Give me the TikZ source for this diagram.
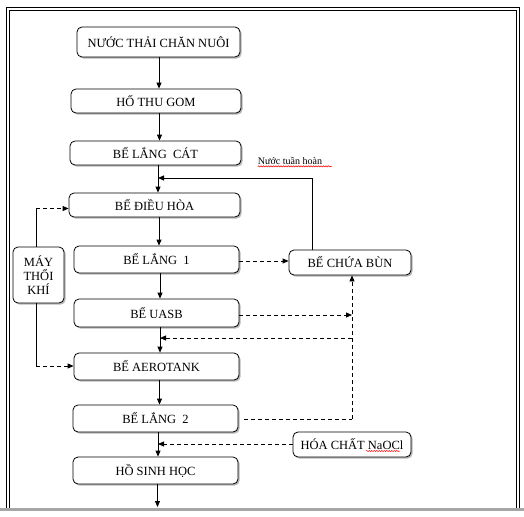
\documentclass[tikz,border=0pt]{standalone}
\usepackage{fontspec}
\setmainfont{Liberation Serif}
\usetikzlibrary{arrows.meta,shadows,decorations.pathmorphing}
\begin{document}
\begin{tikzpicture}[x=1pt,y=-1pt,
  box/.style={draw,rounded corners=5pt,line width=0.8pt,fill=white,
    drop shadow={shadow xshift=1.6pt,shadow yshift=-1.6pt,fill=black!40,opacity=0.7},
    font=\fontsize{12.5}{14}\selectfont,inner sep=0pt,align=center},
  arr/.style={line width=0.8pt,-{Triangle[length=6pt,width=5pt]}},
  darr/.style={line width=0.8pt,dash pattern=on 4pt off 3pt,-{Triangle[length=6pt,width=5pt]}},
  dln/.style={line width=0.8pt,dash pattern=on 4pt off 3pt},
  frame/.style={line width=0.9pt},
  spell/.style={red,line width=0.5pt,decorate,decoration={snake,amplitude=0.6pt,segment length=2.5pt}}
]
\useasboundingbox (0,0) rectangle (524,516);
% page frame
\draw[frame] (6,509) -- (6,7) -- (519,7) -- (519,509);
\draw[frame] (9,509) -- (9,10) -- (516,10) -- (516,509);
\fill[black!35] (0,508.3) rectangle (524,510.7);

% boxes
\node[box,minimum width=163pt,minimum height=30pt] (nt) at (158.5,42) {NƯỚC THẢI CHĂN NUÔI};
\node[box,minimum width=170pt,minimum height=24pt] (ho) at (156,101) {HỐ THU GOM};
\node[box,minimum width=171pt,minimum height=24pt] (lc) at (155.5,153) {BỂ LẮNG\ \ CÁT};
\node[box,minimum width=171pt,minimum height=24pt] (dh) at (154.5,205) {BỂ ĐIỀU HÒA};
\node[box,minimum width=165pt,minimum height=27pt] (l1) at (156.5,259.5) {BỂ LẮNG\ \ 1};
\node[box,minimum width=165pt,minimum height=28pt] (ua) at (156.5,313) {BỂ UASB};
\node[box,minimum width=165pt,minimum height=27pt] (ae) at (156.5,366.5) {BỂ AEROTANK};
\node[box,minimum width=165pt,minimum height=27pt] (l2) at (155.5,418.5) {BỂ LẮNG\ \ 2};
\node[box,minimum width=165pt,minimum height=27pt] (sh) at (155.5,470.5) {HỒ SINH HỌC};
\node[box,minimum width=51pt,minimum height=56pt] (mk) at (38.5,275) {MÁY\\THỔI\\KHÍ};
\node[box,minimum width=122pt,minimum height=25pt] (bun) at (350,262.5) {BỂ CHỨA BÙN};
\node[box,minimum width=118pt,minimum height=25pt] (hc) at (352,444.5) {HÓA CHẤT NaOCl};
\node[font=\fontsize{10}{12}\selectfont,inner sep=0pt] (lbl) at (290,161) {Nước tuần hoàn};
\draw[spell] (lbl.south west) ++(0,1.5) -- ++(74,0);
\draw[spell] (366,451) -- (400,451);

% x positions of main arrows
\coordinate (a1) at (159,0);
\coordinate (a2) at (159.5,0);
\coordinate (a3) at (158,0);
\coordinate (a4) at (159,0);
\coordinate (a5) at (160,0);
\coordinate (a6) at (160,0);
\coordinate (a7) at (159.5,0);
\coordinate (a8) at (158,0);
\coordinate (a9) at (157.5,0);
\coordinate (out) at (157.5,507);

\draw[arr] (a1 |- nt.south) -- (a1 |- ho.north);
\draw[arr] (a2 |- ho.south) -- (a2 |- lc.north);
\draw[arr] (a3 |- lc.south) -- (a3 |- dh.north);
\draw[arr] (a4 |- dh.south) -- (a4 |- l1.north);
\draw[arr] (a5 |- l1.south) -- (a5 |- ua.north);
\draw[arr] (a6 |- ua.south) -- (a6 |- ae.north);
\draw[arr] (a7 |- ae.south) -- (a7 |- l2.north);
\draw[arr] (a8 |- l2.south) -- (a8 |- sh.north);
\draw[arr] (a9 |- sh.south) -- (out);

% recirculation
\coordinate (rc) at (312,178);
\draw[arr] (rc |- bun.north) -- (rc) -- (rc -| a3);

% sludge lines
\coordinate (y1) at (0,261);
\coordinate (vx) at (352,315);
\coordinate (y2) at (244,419);
\coordinate (yb) at (352,338);
\draw[darr] (l1.east |- y1) -- (bun.west |- y1);
\draw[darr] (ua.east |- vx) -- (vx);
\draw[dln] (y2) -- (y2 -| vx);
\draw[darr] (y2 -| vx) -- (vx |- bun.south);
\draw[darr] (yb) -- (yb -| a6);
\coordinate (yh) at (0,444);
\draw[darr] (hc.west |- yh) -- (a8 |- yh);

% air blower
\coordinate (m1) at (36,208.5);
\coordinate (m2) at (36,366);
\draw[line width=0.8pt] (m1 |- mk.north) -- (m1);
\draw[darr] (m1) -- (m1 -| dh.west);
\draw[line width=0.8pt] (m2 |- mk.south) -- (m2);
\draw[darr] (m2) -- (m2 -| ae.west);
\end{tikzpicture}
\end{document}
